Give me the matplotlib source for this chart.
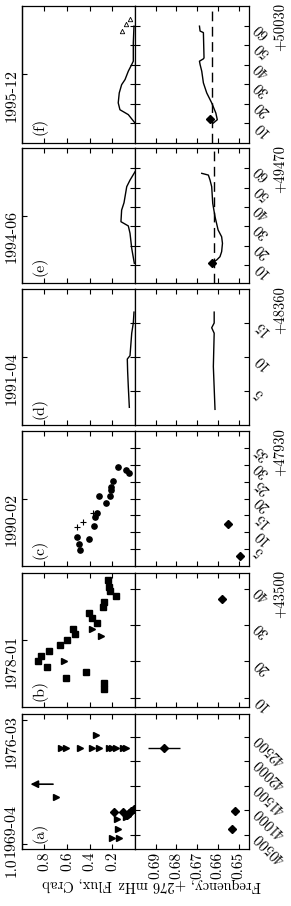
import matplotlib
matplotlib.use('Agg')
import matplotlib.pyplot as plt

plt.rcParams['font.family'] = 'serif'
plt.rcParams['font.serif'] = ['cmr10', 'DejaVu Serif']
plt.rcParams['mathtext.fontset'] = 'cm'
plt.rcParams['axes.unicode_minus'] = False
plt.rcParams['axes.linewidth'] = 0.9

# ---- panel (a) 1969-1976, MJD ----
a_tri_t = [42270, 42270, 42270, 42268, 42270, 42265, 42265, 42265, 42275, 42285,
           42541, 41282, 40820, 40622, 40445, 40445, 40870, 40890]
a_tri_flux = [0.649, 0.613, 0.487, 0.383, 0.319, 0.227, 0.206, 0.171, 0.104, 0.080,
              0.345, 0.699, 0.162, 0.148, 0.201, 0.142, 0.080, 0.062]
a_dia_t = [40963, 40963, 40905, 40950, 40990, 41030]
a_dia_flux = [0.186, 0.104, 0.071, 0.049, 0.031, 0.013]
a_limit_t = 41535
a_limit_flux = (0.699, 0.947)
a_freq_t = [42282, 40990, 40616]
a_freq = [0.6860, 0.6516, 0.6530]
a_freq_err = [0.0075, 0.0016, 0.0]

# ---- panel (b) ----
b_sq_t = [43542.6, 43540.7, 43539.5, 43538.0, 43536.6, 43535.0, 43533.5, 43532.0,
          43530.6, 43528.9, 43527.5, 43526.0, 43524.6, 43523.0, 43521.5, 43520.0,
          43518.6, 43517.0, 43515.5, 43514.0, 43512.4]
b_sq_flux = [0.236, 0.227, 0.221, 0.168, 0.272, 0.286, 0.404, 0.378, 0.339, 0.551,
             0.531, 0.604, 0.664, 0.761, 0.832, 0.856, 0.773, 0.434, 0.613, 0.272, 0.272]
b_tri_t = [43529.0, 43527.1, 43520.1]
b_tri_flux = [0.378, 0.301, 0.626]
b_freq_t = [43537.2]
b_freq = [0.658]

# ---- panel (c) ----
c_dot_t = [47938.6, 47936.6, 47934.6, 47938.1, 47941.9, 47944.4, 47945.7, 47950.6,
           47948.8, 47950.6, 47952.6, 47953.3, 47955.2, 47959.3, 47958.5, 47957.5]
c_dot_flux = [0.511, 0.496, 0.487, 0.407, 0.363, 0.354, 0.339, 0.319,
              0.257, 0.221, 0.215, 0.212, 0.197, 0.148, 0.080, 0.050]
c_plus_t = [47941.6, 47942.9, 47945.7]
c_plus_flux = [0.516, 0.458, 0.369]
c_freq_t = [47942.5, 47932.9]
c_freq = [0.6551, 0.6495]

# ---- panel (d) ----
d_flux_t = [48362.6, 48365.6, 48367.9, 48369.7, 48370.2, 48373.5, 48375.0, 48376.6]
d_flux = [0.050, 0.059, 0.065, 0.068, 0.044, 0.029, 0.015, 0.009]
d_freq_t = [48362.3, 48368.6, 48373.5, 48374.3, 48375.0, 48376.6]
d_freq = [0.6614, 0.6622, 0.6618, 0.6630, 0.6618, 0.6618]

# ---- panel (e) ----
e_flux_t = [49480.9, 49488.6, 49496.4, 49500.2, 49502.4, 49508.4, 49512.2, 49520.5,
            49523.9, 49528.2]
e_flux = [0.006, 0.029, 0.044, 0.059, 0.124, 0.118, 0.097, 0.073, 0.044, 0.0]
e_freq_t = [49480.9, 49482.6, 49484.3, 49486.9, 49491.2, 49494.6, 49498.1, 49505.0,
            49511.9, 49520.5, 49523.9, 49526.5, 49527.4]
e_freq = [0.6630, 0.6606, 0.6590, 0.6582, 0.6578, 0.6582, 0.6599, 0.6614,
          0.6625, 0.6630, 0.6638, 0.6646, 0.6678]
e_dia_t = [49480.9]
e_dia = [0.6630]
e_ref = 0.6618

# ---- panel (f) ----
f_flux_t = [50040.2, 50044.5, 50047.0, 50050.5, 50055.6, 50059.8, 50062.4, 50066.7,
            50070.1, 50071.8, 50081.2, 50089.7]
f_flux = [0.0, 0.059, 0.133, 0.148, 0.139, 0.118, 0.088, 0.059, 0.029, 0.015, 0.015, 0.009]
f_open_t = [50087.2, 50090.6, 50093.2]
f_open_flux = [0.118, 0.080, 0.044]
f_freq_t = [50040.2, 50041.9, 50045.3, 50050.5, 50055.6, 50060.7, 50066.7, 50070.1,
            50071.8, 50073.0, 50073.5, 50086.4, 50087.2, 50089.7]
f_freq = [0.6622, 0.6603, 0.6610, 0.6630, 0.6654, 0.6670, 0.6678, 0.6686,
          0.6689, 0.6670, 0.6667, 0.6670, 0.6686, 0.6689]
f_dia_t = [50042.4]
f_dia = [0.6638]
f_ref = 0.6630

# ---- axes setup ----
names = ['(a)', '(b)', '(c)', '(d)', '(e)', '(f)']
tlims = [(40210, 42970), (43507.4, 43544.5), (47930, 47970), (48360, 48380),
         (49470.7, 49540.5), (50030, 50100)]
offsets = [0, 43500, 47930, 48360, 49470, 50030]
tticks = [[40500, 41000, 41500, 42000, 42500], [10, 20, 30, 40],
          [5, 10, 15, 20, 25, 30, 35], [5, 10, 15],
          [10, 20, 30, 40, 50, 60], [10, 20, 30, 40, 50, 60]]
date_labels = [['1969-04', '1976-03'], ['1978-01'], ['1990-02'], ['1991-04'],
               ['1994-06'], ['1995-12']]
a_date_ticks = [40312, 42838]
flux_ticks = [0.2, 0.4, 0.6, 0.8]
freq_ticks = [0.65, 0.66, 0.67, 0.68, 0.69]

W, H = 291, 906
fig = plt.figure(figsize=(W / 100, H / 100), dpi=100)
rows = [(714, 849), (573, 707), (431, 566), (289, 425), (148, 283), (6, 143)]

def px_axes(x0, x1, ytop, ybot):
    return fig.add_axes([x0 / W, 1 - ybot / H, (x1 - x0) / W, (ybot - ytop) / H])

flux_axes, freq_axes = [], []
for i, (yt, yb) in enumerate(rows):
    axf = px_axes(21.7, 135, yt, yb)
    axq = px_axes(135, 249, yt, yb)
    flux_axes.append(axf)
    freq_axes.append(axq)
    ticks = [t + offsets[i] for t in tticks[i]]
    for ax in (axf, axq):
        ax.set_ylim(*tlims[i])
        ax.set_yticks(ticks)
    axf.set_xlim(1.0, 0.0)
    axq.set_xlim(0.70, 0.645)
    axf.set_xticks(flux_ticks)
    axq.set_xticks(freq_ticks)
    for ax in (axf, axq):
        ax.tick_params(axis='x', direction='in', top=True, bottom=True,
                       length=3.5, width=0.8, labelbottom=(i == 0),
                       labelrotation=90, labelsize=11, pad=2)
    axf.tick_params(axis='y', direction='in', left=False, right=True,
                    labelleft=False, labelright=False, length=3.5, width=0.8)
    axq.tick_params(axis='y', direction='in', left=True, right=True,
                    labelleft=False, labelright=True, length=3.5, width=0.8,
                    labelrotation=135, labelsize=10.5, pad=2)
    axq.set_yticklabels([str(t) for t in tticks[i]])
    if i == 0:
        axf.set_xticklabels(['0.2', '0.4', '0.6', '0.8'])
        axq.set_xticklabels(['0.65', '0.66', '0.67', '0.68', '0.69'])
        axf.text(-0.086, -0.06, '1.0', transform=axf.transAxes, rotation=90,
                 ha='center', va='top', fontsize=11)
    else:
        axq.text(1.265, 1.02, '+%d' % offsets[i], transform=axq.transAxes,
                 rotation=90, ha='center', va='top', fontsize=10.5)
    sec = axf.secondary_yaxis('left')
    dticks = a_date_ticks if i == 0 else [sum(tlims[i]) / 2]
    sec.set_yticks(dticks)
    sec.set_yticklabels(['', date_labels[0][1]] if i == 0 else date_labels[i])
    sec.tick_params(direction='in', length=3.5, width=0.8, labelrotation=90,
                    labelsize=11.5, pad=2)
    axf.text(0.16, 0.12, names[i], transform=axf.transAxes, rotation=90,
             ha='center', va='center', fontsize=11.5)

# first date of panel (a) sits just above the "1.0" flux label
fig.text(11 / W, 1 - 857 / H, date_labels[0][0], rotation=90, ha='center',
         va='bottom', fontsize=11.5)

mk = dict(color='k', linestyle='none')

# (a)
ax, aq = flux_axes[0], freq_axes[0]
ax.plot(a_tri_flux, a_tri_t, marker='>', ms=3.8, **mk)
ax.plot(a_dia_flux, a_dia_t, marker='D', ms=4.2, **mk)
ax.annotate('', xy=(a_limit_flux[1], a_limit_t), xytext=(a_limit_flux[0], a_limit_t),
            arrowprops=dict(arrowstyle='-|>', color='k', lw=1.2, mutation_scale=11))
aq.errorbar(a_freq, a_freq_t, xerr=a_freq_err, fmt='D', ms=4.2, color='k',
            elinewidth=1, capsize=0)

# (b)
ax, aq = flux_axes[1], freq_axes[1]
ax.plot(b_sq_flux, b_sq_t, marker='s', ms=3.8, **mk)
ax.plot(b_tri_flux, b_tri_t, marker='>', ms=3.8, **mk)
aq.plot(b_freq, b_freq_t, marker='D', ms=4.2, **mk)

# (c)
ax, aq = flux_axes[2], freq_axes[2]
ax.plot(c_dot_flux, c_dot_t, marker='o', ms=3.8, **mk)
ax.plot(c_plus_flux, c_plus_t, marker='+', ms=5, mew=0.8, **mk)
aq.plot(c_freq, c_freq_t, marker='D', ms=4.2, **mk)

# (d)
flux_axes[3].plot(d_flux, d_flux_t, color='k', lw=1)
freq_axes[3].plot(d_freq, d_freq_t, color='k', lw=1)

# (e)
flux_axes[4].plot(e_flux, e_flux_t, color='k', lw=1)
freq_axes[4].plot(e_freq, e_freq_t, color='k', lw=1)
freq_axes[4].plot(e_dia, e_dia_t, marker='D', ms=4.2, **mk)
freq_axes[4].axvline(e_ref, color='k', lw=1, ls=(0, (7, 4)))

# (f)
flux_axes[5].plot(f_flux, f_flux_t, color='k', lw=1)
flux_axes[5].plot(f_open_flux, f_open_t, marker='^', ms=3.2, mfc='none', mew=0.6,
                  color='k', linestyle='none')
freq_axes[5].plot(f_freq, f_freq_t, color='k', lw=1)
freq_axes[5].plot(f_dia, f_dia_t, marker='D', ms=4.2, **mk)
freq_axes[5].axvline(f_ref, color='k', lw=1, ls=(0, (7, 4)))

fig.text(77.5 / W, 1 - 884 / H, 'Flux, Crab', rotation=180, ha='center',
         va='center', fontsize=10.5)
fig.text(190 / W, 1 - 885 / H, 'Frequency, +276 mHz', rotation=180, ha='center',
         va='center', fontsize=10.5)

fig.savefig('out.png', dpi=100)
